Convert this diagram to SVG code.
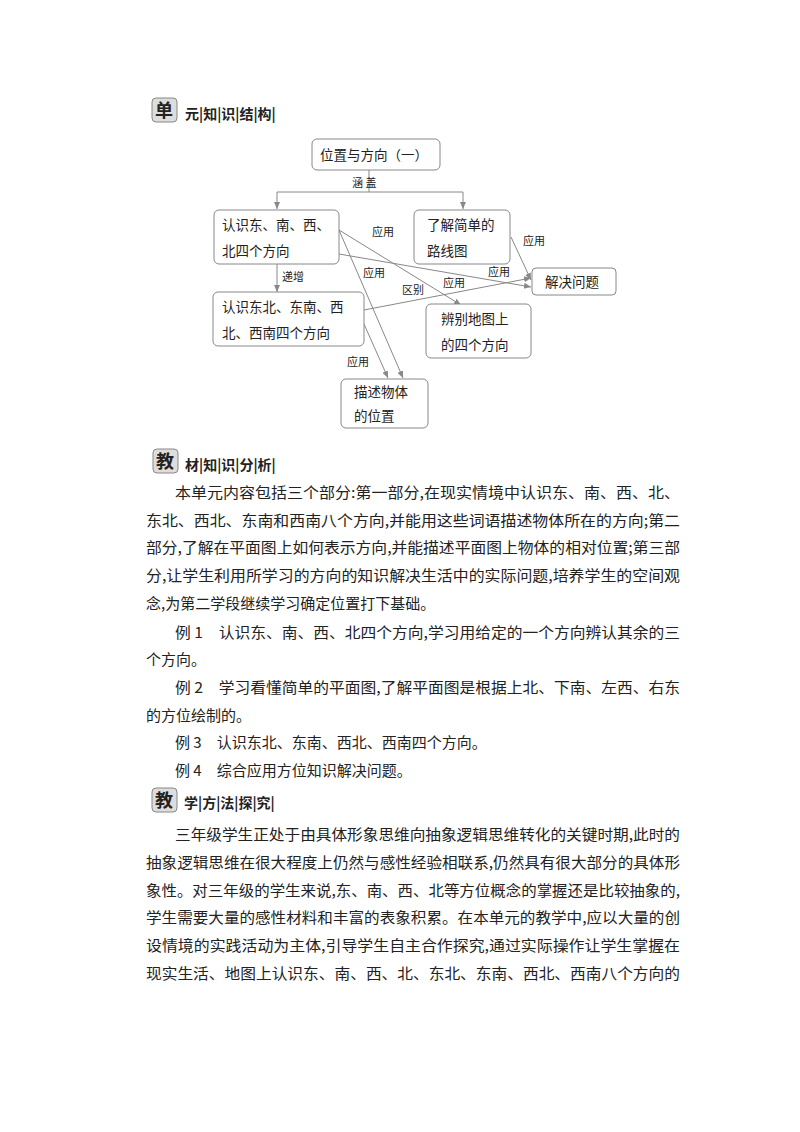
<svg xmlns="http://www.w3.org/2000/svg" width="800" height="1132" viewBox="0 0 800 1132">
<defs>
<style>
.t{font-family:"Noto Sans CJK SC","Noto Sans CJK JP",sans-serif;fill:#222}
.b{font-size:15px}
.n{font-size:13.5px}
.l{font-size:11px}
.h{font-size:14px;font-weight:bold}
.box{fill:#fff;stroke:#888;stroke-width:1}
.c{stroke:#888;stroke-width:1;fill:none;marker-end:url(#a)}
.badge{fill:#ddd;stroke:#888;stroke-width:1}
</style>
<marker id="a" markerWidth="8" markerHeight="8" refX="7" refY="4" orient="auto" markerUnits="userSpaceOnUse"><path d="M0,1 L7,4 L0,7 Z" fill="#888"/></marker>
</defs>
<rect width="800" height="1132" fill="#fff"/>
<g id="h1"><rect class="badge" x="152" y="98" width="25" height="24" rx="4"/><text class="t" x="155" y="117" font-size="18" font-weight="bold">单</text><text class="t h" x="185" y="119">元|知|识|结|构|</text></g>
<g id="connectors">
<line x1="369" y1="170" x2="369" y2="192" stroke="#888"/>
<path d="M277,192 H463" stroke="#888" fill="none"/>
<path class="c" d="M277,192 V209"/>
<path class="c" d="M463,192 V209"/>
<path class="c" d="M277,264 V292"/>
<path class="c" d="M339,230 L461,305"/>
<path class="c" d="M339,230 L403,378"/>
<path class="c" d="M339,254 L531,287"/>
<path class="c" d="M511,237 L531,280"/>
<path class="c" d="M364,310 L531,278"/>
<path class="c" d="M364,324 L388,378"/>
</g>
<g id="labels">
<text class="t l" x="352" y="187">涵 盖</text>
<text class="t l" x="282" y="281">递增</text>
<text class="t l" x="372" y="236">应用</text>
<text class="t l" x="363" y="277">应用</text>
<text class="t l" x="523" y="245">应用</text>
<text class="t l" x="488" y="276">应用</text>
<text class="t l" x="443" y="287">应用</text>
<text class="t l" x="402" y="294">区别</text>
<text class="t l" x="347" y="366">应用</text>
</g>
<g id="n1"><rect class="box" x="312" y="139" width="128" height="31" rx="5"/><text class="t n" x="320" y="160">位置与方向（一）</text></g>
<g id="n2"><rect class="box" x="214" y="210" width="125" height="54" rx="5"/><text class="t n" x="222" y="230">认识东、南、西、</text><text class="t n" x="222" y="256">北四个方向</text></g>
<g id="n3"><rect class="box" x="414" y="210" width="96" height="54" rx="5"/><text class="t n" x="427" y="230">了解简单的</text><text class="t n" x="427" y="256">路线图</text></g>
<g id="n4"><rect class="box" x="213" y="292" width="151" height="54" rx="5"/><text class="t n" x="222" y="312">认识东北、东南、西</text><text class="t n" x="222" y="338">北、西南四个方向</text></g>
<g id="n5"><rect class="box" x="532" y="268" width="84" height="27" rx="4"/><text class="t n" x="545" y="287">解决问题</text></g>
<g id="n6"><rect class="box" x="426" y="304" width="105" height="54" rx="5"/><text class="t n" x="441" y="324">辨别地图上</text><text class="t n" x="441" y="350">的四个方向</text></g>
<g id="n7"><rect class="box" x="341" y="379" width="87" height="49" rx="5"/><text class="t n" x="354" y="397">描述物体</text><text class="t n" x="354" y="421">的位置</text></g>
<g id="h2"><rect class="badge" x="153" y="449" width="25" height="24" rx="4"/><text class="t" x="156" y="468" font-size="18" font-weight="bold">教</text><text class="t h" x="185" y="470">材|知|识|分|析|</text></g>
<g id="body1" class="t b">
<text x="175" y="498" textLength="505" lengthAdjust="spacingAndGlyphs">本单元内容包括三个部分:第一部分,在现实情境中认识东、南、西、北、</text>
<text x="146" y="526" textLength="534" lengthAdjust="spacingAndGlyphs">东北、西北、东南和西南八个方向,并能用这些词语描述物体所在的方向;第二</text>
<text x="146" y="553" textLength="534" lengthAdjust="spacingAndGlyphs">部分,了解在平面图上如何表示方向,并能描述平面图上物体的相对位置;第三部</text>
<text x="146" y="581" textLength="534" lengthAdjust="spacingAndGlyphs">分,让学生利用所学习的方向的知识解决生活中的实际问题,培养学生的空间观</text>
<text x="146" y="609">念,为第二学段继续学习确定位置打下基础。</text>
<text x="175" y="638" textLength="505" lengthAdjust="spacingAndGlyphs">例 1　认识东、南、西、北四个方向,学习用给定的一个方向辨认其余的三</text>
<text x="146" y="665">个方向。</text>
<text x="175" y="693" textLength="505" lengthAdjust="spacingAndGlyphs">例 2　学习看懂简单的平面图,了解平面图是根据上北、下南、左西、右东</text>
<text x="146" y="721">的方位绘制的。</text>
<text x="175" y="748">例 3　认识东北、东南、西北、西南四个方向。</text>
<text x="175" y="776">例 4　综合应用方位知识解决问题。</text>
</g>
<g id="h3"><rect class="badge" x="152" y="788" width="25" height="24" rx="4"/><text class="t" x="155" y="807" font-size="18" font-weight="bold">教</text><text class="t h" x="184" y="808">学|方|法|探|究|</text></g>
<g id="body2" class="t b">
<text x="175" y="840" textLength="505" lengthAdjust="spacingAndGlyphs">三年级学生正处于由具体形象思维向抽象逻辑思维转化的关键时期,此时的</text>
<text x="146" y="868" textLength="534" lengthAdjust="spacingAndGlyphs">抽象逻辑思维在很大程度上仍然与感性经验相联系,仍然具有很大部分的具体形</text>
<text x="146" y="896" textLength="534" lengthAdjust="spacingAndGlyphs">象性。对三年级的学生来说,东、南、西、北等方位概念的掌握还是比较抽象的,</text>
<text x="146" y="923" textLength="534" lengthAdjust="spacingAndGlyphs">学生需要大量的感性材料和丰富的表象积累。在本单元的教学中,应以大量的创</text>
<text x="146" y="951" textLength="534" lengthAdjust="spacingAndGlyphs">设情境的实践活动为主体,引导学生自主合作探究,通过实际操作让学生掌握在</text>
<text x="146" y="979" textLength="534" lengthAdjust="spacingAndGlyphs">现实生活、地图上认识东、南、西、北、东北、东南、西北、西南八个方向的</text>
</g>
</svg>
